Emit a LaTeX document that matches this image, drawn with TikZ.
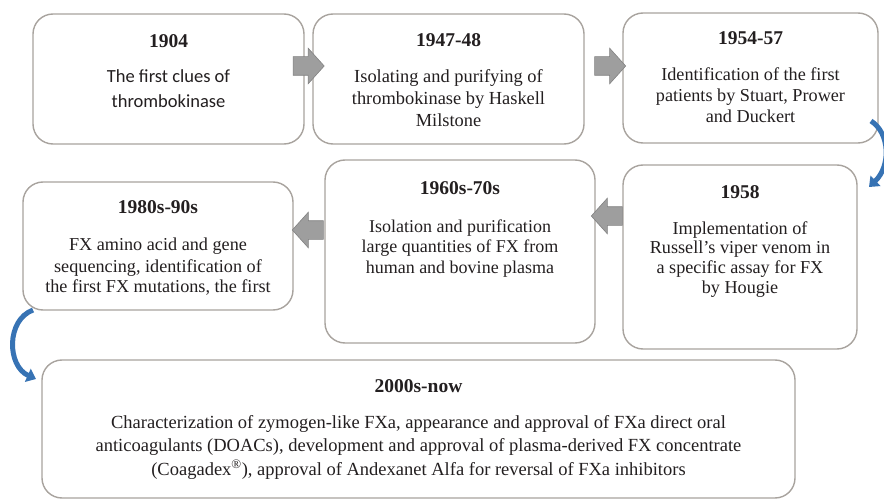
\documentclass[tikz,border=0pt]{standalone}
\usepackage{fontspec}
\setmainfont{Liberation Serif}
\newfontfamily\calibfont{Carlito}
\usetikzlibrary{shapes.arrows,arrows.meta}
\definecolor{txt}{RGB}{35,31,32}
\definecolor{bord}{RGB}{168,163,158}
\definecolor{garrow}{RGB}{158,158,158}
\definecolor{garrowd}{RGB}{130,130,130}
\definecolor{barrow}{RGB}{55,115,180}
\newcommand\lines[1]{\begin{tabular}[t]{@{}c@{}}#1\end{tabular}}
\begin{document}
\begin{tikzpicture}[x=1pt,y=-1pt,
 box/.style={draw=bord, line width=1.4pt, rounded corners=20pt, fill=white, inner sep=0pt},
 yr/.style={anchor=base, inner sep=0pt, text=txt, font=\fontsize{19.5}{22}\selectfont\bfseries},
 body/.style={anchor=base, inner sep=0pt, text=txt},
 garr/.style={single arrow, fill=garrow, draw=garrowd, line width=0.6pt, inner xsep=0pt, inner ysep=9pt, minimum height=31pt, single arrow head extend=8.5pt, single arrow tip angle=96},
 barr/.style={draw=barrow, line width=5pt, -{Triangle[length=9pt,width=14pt]}}]
\useasboundingbox (0,0) rectangle (884,500);
% boxes
\node[box, minimum width=271pt, minimum height=130pt] (b1) at (168.5,79) {};
\node[box, minimum width=271pt, minimum height=130pt] (b2) at (448.5,79) {};
\node[box, minimum width=255pt, minimum height=130pt] (b3) at (750.5,78) {};
\node[box, minimum width=270pt, minimum height=128pt] (b4) at (158,246) {};
\node[box, minimum width=270pt, minimum height=183pt] (b5) at (460,251.5) {};
\node[box, minimum width=234pt, minimum height=184pt] (b6) at (740,257) {};
\node[box, minimum width=753pt, minimum height=138pt] (b7) at (418.5,429) {};
% texts
\node[yr] (y1) at (168.5,48) {1904};
\node[body, font=\calibfont\fontsize{18.5}{25}\selectfont] (t1) at (168.5,83) {\lines{The first clues of\\thrombokinase}};
\node[yr] (y2) at (448.5,47) {1947-48};
\node[body, font=\fontsize{18.4}{22}\selectfont] (t2) at (448.5,83) {\lines{Isolating and purifying of\\thrombokinase by Haskell\\Milstone}};
\node[yr] (y3) at (750.5,45) {1954-57};
\node[body, font=\fontsize{18.2}{21}\selectfont] (t3) at (750.5,80.5) {\lines{Identification of the first\\patients by Stuart, Prower\\and Duckert}};
\node[yr] (y4) at (158,213) {1980s-90s};
\node[body, font=\fontsize{18.2}{21}\selectfont] (t4) at (158,251) {\lines{FX amino acid and gene\\sequencing, identification of\\the first FX mutations, the first}};
\node[yr] (y5) at (460,195) {1960s-70s};
\node[body, font=\fontsize{18}{20.5}\selectfont] (t5) at (460,232) {\lines{Isolation and purification\\large quantities of FX from\\human and bovine plasma}};
\node[yr] (y6) at (740,199) {1958};
\node[body, font=\fontsize{18.2}{19.7}\selectfont] (t6) at (740,234) {\lines{Implementation of\\Russell's viper venom in\\a specific assay for FX\\by Hougie}};
\node[yr] (y7) at (418.5,392) {2000s-now};
\node[body, font=\fontsize{18.5}{23.5}\selectfont] (t7) at (418.5,428) {\lines{Characterization of zymogen-like FXa, appearance and approval of FXa direct oral\\anticoagulants (DOACs), development and approval of plasma-derived FX concentrate\\(Coagadex\textsuperscript{®}), approval of Andexanet Alfa for reversal of FXa inhibitors}};
% gray arrows
\node[garr] (a1) at (304.5,66) {};
\node[garr] (a2) at (606,66) {};
\node[garr, shape border rotate=180] (a3) at (611,216) {};
\node[garr, shape border rotate=180] (a4) at (312,230) {};
% blue curved arrows
\coordinate (r1) at (871,121);
\coordinate (r2) at (869,187);
\coordinate (l1) at (33,310);
\coordinate (l2) at (36,379);
\draw[barr] (r1) .. controls (890,133) and (891,166) .. (r2);
\draw[barr] (l1) .. controls (6,320) and (7,366) .. (l2);
\end{tikzpicture}
\end{document}
